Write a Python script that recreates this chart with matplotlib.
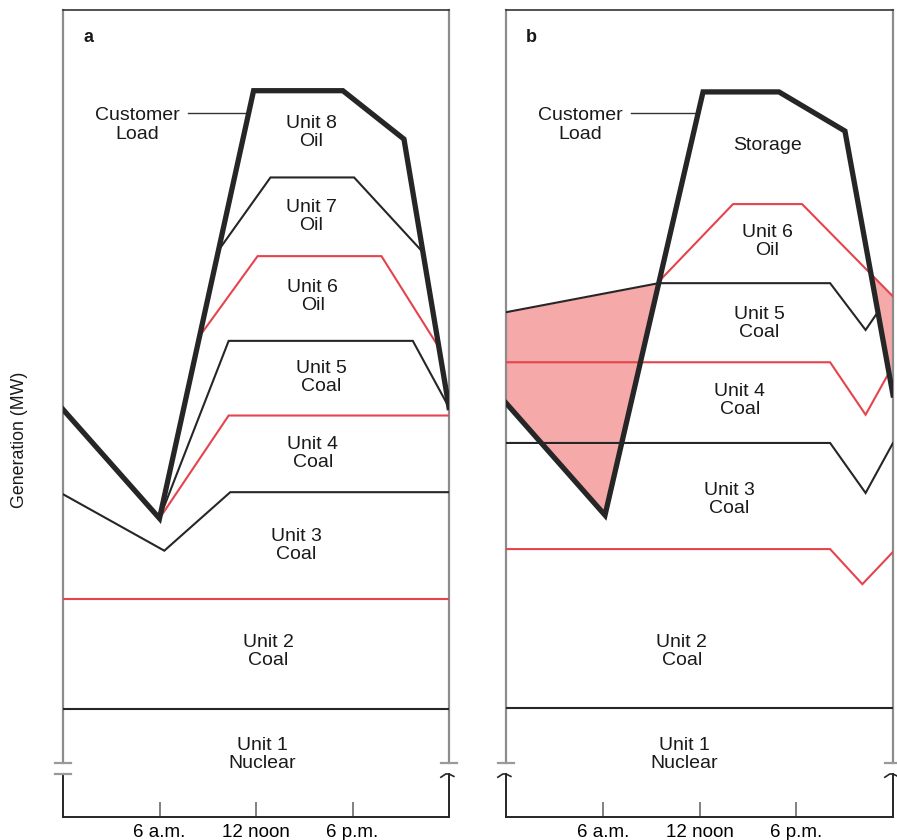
import numpy as np
import matplotlib
matplotlib.use("Agg")
import matplotlib.pyplot as plt

plt.rcParams['font.family'] = ['Liberation Sans', 'DejaVu Sans']

# ---- data: hours of the day and generation (MW) ----
HOUR_TICKS = [6, 12, 18]
HOUR_LABELS = ["6 a.m.", "12 noon", "6 p.m."]

# Panel a: conventional dispatch
load_a_t = [0, 6, 11.85, 17.4, 21.2, 24]
load_a = [1010, 740, 1800, 1800, 1680, 1015]
unit1_a_t = [0, 24]
unit1_a = [268, 268]
unit2_a_t = [0, 24]
unit2_a = [540, 540]
unit3_a_t = [0, 6.3, 10.4, 24]
unit3_a = [800, 660, 805, 805]
unit4_a_t = [6, 10.3, 24]
unit4_a = [740, 995, 995]
unit5_a_t = [6, 10.3, 21.75, 24]
unit5_a = [740, 1180, 1180, 1015]
unit6_a_t = [8.5, 12.1, 19.8, 23.35]
unit6_a = [1192, 1390, 1390, 1165]
unit7_a_t = [9.68, 12.9, 18.1, 22.37]
unit7_a = [1405, 1585, 1585, 1400]

# Panel b: dispatch with storage
load_b_t = [0, 6.14, 12.22, 16.93, 21.02, 24]
load_b = [1026, 748, 1797, 1797, 1700, 1046]
unit1_b_t = [0, 24]
unit1_b = [270, 270]
unit2_b_t = [0, 20.1, 22.1, 24]
unit2_b = [664, 664, 577, 657]
unit3_b_t = [0, 20.1, 22.3, 24]
unit3_b = [927, 927, 803, 927]
unit4_b_t = [0, 20.1, 22.3, 23.75]
unit4_b = [1127, 1127, 997, 1101]
unit5_b_t = [0, 9.47, 20.1, 22.3, 23.07]
unit5_b = [1251, 1323, 1323, 1207, 1252]
unit6_b_t = [9.5, 14.08, 18.36, 24]
unit6_b = [1328, 1519, 1519, 1290]

labels_a = [
    ("Unit 8\nOil", 15.42, 1697), ("Unit 7\nOil", 15.42, 1489),
    ("Unit 6\nOil", 15.54, 1289), ("Unit 5\nCoal", 16.04, 1090),
    ("Unit 4\nCoal", 15.54, 900), ("Unit 3\nCoal", 14.49, 672),
    ("Unit 2\nCoal", 12.75, 411), ("Unit 1\nNuclear", 12.37, 154),
]
labels_b = [
    ("Storage", 16.19, 1665), ("Unit 6\nOil", 16.19, 1427),
    ("Unit 5\nCoal", 15.69, 1224), ("Unit 4\nCoal", 14.51, 1033),
    ("Unit 3\nCoal", 13.83, 786), ("Unit 2\nCoal", 10.91, 411),
    ("Unit 1\nNuclear", 11.04, 154),
]

BLACK = "#262626"
RED = "#e5434e"
PINK = "#f5a9a9"
FS = 14
LS = 1.08

fig = plt.figure(figsize=(8.97, 8.4), dpi=100)
W, H = 897, 840
ax_a = fig.add_axes([63 / W, 1 - 817 / H, 386 / W, 807 / H])
ax_b = fig.add_axes([506 / W, 1 - 817 / H, 387 / W, 807 / H])


def frame(ax, left_hook):
    ax.set_xlim(0, 24)
    ax.set_ylim(0, 2000)
    ax.set_yticks([])
    ax.set_xticks(HOUR_TICKS)
    ax.set_xticklabels(HOUR_LABELS, fontsize=13.5)
    ax.tick_params(axis='x', direction='in', length=11, width=1.3,
                   color='#777777', pad=5)
    for s in ('left', 'right'):
        ax.spines[s].set_visible(False)
    ax.spines['top'].set_color('#333333')
    ax.spines['top'].set_linewidth(1.2)
    ax.spines['bottom'].set_color(BLACK)
    ax.spines['bottom'].set_linewidth(1.4)
    tr = ax.transAxes
    y_up, y_lo = 0.0669, 0.0533
    dx = 0.021
    for x0, hook in ((0.0, left_hook), (1.0, True)):
        # upper part of the side rule with its break cap
        ax.plot([x0, x0], [1, y_up], color='#8c8c8c', lw=1.6,
                transform=tr, clip_on=False)
        ax.plot([x0 - dx, x0 + dx], [y_up, y_up], color='#9a9a9a', lw=1.6,
                transform=tr, clip_on=False)
        # lower part below the break
        ax.plot([x0, x0], [y_lo, 0], color=BLACK, lw=1.4,
                transform=tr, clip_on=False)
        if hook:
            ax.plot([x0 - dx, x0 - dx * 0.4, x0, x0 + dx * 0.6],
                    [y_lo - 0.004, y_lo, y_lo, y_lo - 0.003], color=BLACK,
                    lw=1.2, transform=tr, clip_on=False)
        else:
            ax.plot([x0 - dx, x0 + dx], [y_lo, y_lo], color='#9a9a9a',
                    lw=1.6, transform=tr, clip_on=False)


frame(ax_a, left_hook=False)
frame(ax_b, left_hook=True)

# ---- panel a ----
for t, v, c in ((unit1_a_t, unit1_a, BLACK), (unit2_a_t, unit2_a, RED),
                (unit3_a_t, unit3_a, BLACK), (unit4_a_t, unit4_a, RED),
                (unit5_a_t, unit5_a, BLACK), (unit6_a_t, unit6_a, RED),
                (unit7_a_t, unit7_a, BLACK)):
    ax_a.plot(t, v, color=c, lw=1.5, solid_joinstyle='miter', zorder=3)
ax_a.plot(load_a_t, load_a, color=BLACK, lw=3.8, solid_joinstyle='miter',
          zorder=4)

# ---- panel b ----
grid = np.linspace(0, 24, 4801)
load_grid = np.interp(grid, load_b_t, load_b)
charge = np.interp(grid, unit5_b_t, unit5_b)
evening = np.interp(grid, unit6_b_t, unit6_b)
ax_b.fill_between(grid, load_grid, charge,
                  where=(grid <= unit5_b_t[1]) & (charge >= load_grid),
                  interpolate=True, color=PINK, lw=0, zorder=1)
ax_b.fill_between(grid, load_grid, evening,
                  where=(grid >= unit6_b_t[2]) & (evening >= load_grid),
                  interpolate=True, color=PINK, lw=0, zorder=1)
for t, v, c in ((unit1_b_t, unit1_b, BLACK), (unit2_b_t, unit2_b, RED),
                (unit3_b_t, unit3_b, BLACK), (unit4_b_t, unit4_b, RED),
                (unit5_b_t, unit5_b, BLACK), (unit6_b_t, unit6_b, RED)):
    ax_b.plot(t, v, color=c, lw=1.5, solid_joinstyle='miter', zorder=3)
ax_b.plot(load_b_t, load_b, color=BLACK, lw=3.8, solid_joinstyle='miter',
          zorder=4)

# ---- text ----
for ax, labels, letter, lead_end in ((ax_a, labels_a, "a", 11.57),
                                     (ax_b, labels_b, "b", 11.85)):
    for txt, x, y in labels:
        ax.text(x, y, txt, ha='center', va='center', fontsize=FS,
                linespacing=LS, color='#1a1a1a', zorder=5)
    ax.text(1.6, 1933, letter, ha='center', va='center', fontsize=13,
            fontweight='bold', color='#1a1a1a')
    ax.text(4.62, 1715, "Customer\nLoad", ha='center', va='center',
            fontsize=FS, linespacing=LS, color='#1a1a1a')
    ax.plot([7.75, lead_end], [1745, 1745], color='#333333', lw=1.0,
            zorder=3)

fig.text(20 / W, 1 - 440 / H, "Generation (MW)", rotation=90, ha='center',
         va='center', fontsize=12.8, color='#1a1a1a')

fig.savefig("out.png", dpi=100)
